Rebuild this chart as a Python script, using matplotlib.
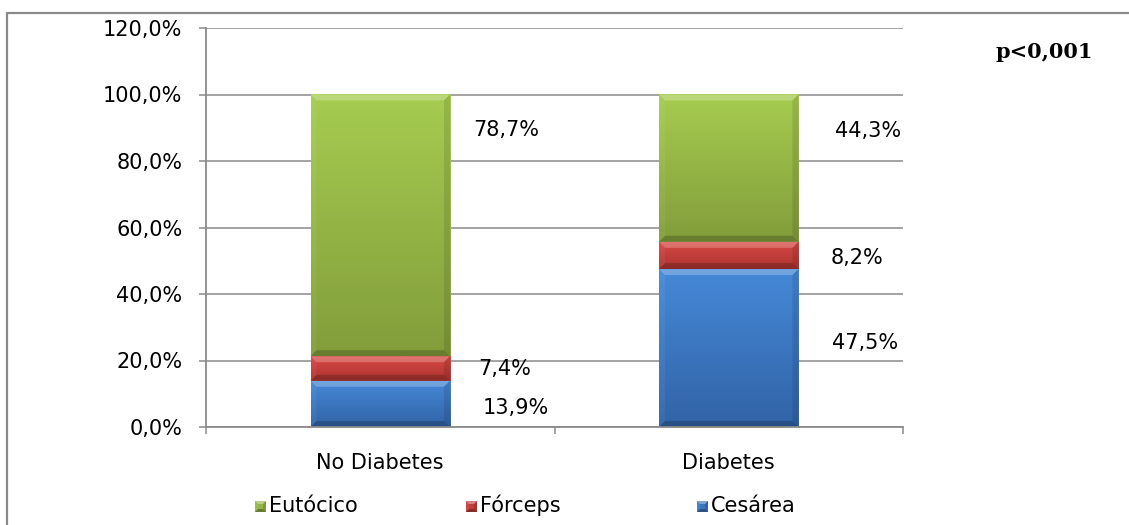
import numpy as np
import matplotlib
matplotlib.use("Agg")
import matplotlib.pyplot as plt
from matplotlib.patches import Polygon
from matplotlib.lines import Line2D
from matplotlib.colors import LinearSegmentedColormap
from matplotlib.ticker import FuncFormatter, FixedLocator

# ---- data -------------------------------------------------------------
categories = ["No Diabetes", "Diabetes"]
series_names = ["Eutócico", "Fórceps", "Cesárea"]
cesarea = [13.9, 47.5]
forceps = [7.4, 8.2]
eutocico = [78.7, 44.3]
y_ticks = [0, 20, 40, 60, 80, 100, 120]
p_text = "p<0,001"

# ---- style ------------------------------------------------------------
FONT = "DejaVu Sans"
FS = 15
GRAY = "#8a8a8a"
# (top colour, bottom colour) of each segment's vertical gradient
shades = {
    "Cesárea": ("#4689d8", "#3163a6"),
    "Fórceps": ("#d84844", "#ad3431"),
    "Eutócico": ("#a6cc50", "#829d3b"),
}
BEVEL_PX = 6

W, H, DPI = 1129, 525, 100
fig = plt.figure(figsize=(W / DPI, H / DPI), dpi=DPI)
ax = fig.add_axes([206 / W, 1 - 427 / H, 697 / W, 399 / H])

x = np.arange(len(categories))
ax.set_xlim(-0.5, len(categories) - 0.5)
ax.set_ylim(0, 120)

# pixel -> data unit conversion for the bevel
sx = (W * ax.get_position().width) / (len(categories))
sy = (H * ax.get_position().height) / 120
bx, by = BEVEL_PX / sx, BEVEL_PX / sy


def bevel_faces(x0, y0, x1, y1, bxx, byy, strength=1.0):
    return [
        ([(x0, y1), (x1, y1), (x1 - bxx, y1 - byy), (x0 + bxx, y1 - byy)], "white", 0.24 * strength),
        ([(x0, y0), (x1, y0), (x1 - bxx, y0 + byy), (x0 + bxx, y0 + byy)], "black", 0.2 * strength),
        ([(x0, y0), (x0, y1), (x0 + bxx, y1 - byy), (x0 + bxx, y0 + byy)], "white", 0.05 * strength),
        ([(x1, y0), (x1, y1), (x1 - bxx, y1 - byy), (x1 - bxx, y0 + byy)], "black", 0.1 * strength),
    ]


def bevel(ax, x0, y0, x1, y1, c_top, c_bot, bx, by, z):
    cmap = LinearSegmentedColormap.from_list("g", [c_bot, c_top])
    grad = np.linspace(0, 1, 256).reshape(-1, 1)
    ax.imshow(grad, extent=(x0, x1, y0, y1), origin="lower", cmap=cmap,
              aspect="auto", zorder=z, interpolation="bilinear")
    bxx = min(bx, (x1 - x0) / 2)
    byy = min(by, (y1 - y0) / 2)
    for pts, col, a in bevel_faces(x0, y0, x1, y1, bxx, byy):
        ax.add_patch(Polygon(pts, closed=True, facecolor=col, alpha=a,
                             edgecolor="none", zorder=z + 0.1))


bottom = np.zeros(len(categories))
stack = [("Cesárea", cesarea), ("Fórceps", forceps), ("Eutócico", eutocico)]
for name, vals in stack:
    top_c, bot_c = shades[name]
    bars = ax.bar(x, vals, width=0.4, bottom=bottom, color=bot_c,
                  edgecolor="none", zorder=3, label=name)
    for r in bars:
        x0, y0 = r.get_x(), r.get_y()
        bevel(ax, x0, y0, x0 + r.get_width(), y0 + r.get_height(),
              top_c, bot_c, bx, by, 4)
    bottom += np.array(vals)

ax.set_xlim(-0.5, len(categories) - 0.5)
ax.set_ylim(0, 120)

# value labels beside each bar
label_pos = {
    ("No Diabetes", "Eutócico"): (0.361, 89.3),
    ("No Diabetes", "Fórceps"): (0.358, 17.4),
    ("No Diabetes", "Cesárea"): (0.390, 5.7),
    ("Diabetes", "Eutócico"): (1.400, 89.0),
    ("Diabetes", "Fórceps"): (1.368, 50.8),
    ("Diabetes", "Cesárea"): (1.391, 25.3),
}
for name, vals in stack:
    for ci, cat in enumerate(categories):
        lx, ly = label_pos[(cat, name)]
        ax.text(lx, ly, f"{vals[ci]:.1f}%".replace(".", ","), ha="center",
                va="center", fontsize=FS, family=FONT, color="black", zorder=6)

# axes styling
ax.yaxis.set_major_locator(FixedLocator(y_ticks))
ax.yaxis.set_major_formatter(FuncFormatter(lambda v, p: f"{v:.1f}%".replace(".", ",")))
ax.grid(axis="y", color=GRAY, lw=1.1, zorder=0)
ax.set_axisbelow(True)
for s in ("top", "right"):
    ax.spines[s].set_visible(False)
for s in ("left", "bottom"):
    ax.spines[s].set_color(GRAY)
    ax.spines[s].set_linewidth(1.3)
    ax.spines[s].set_zorder(5)
ax.tick_params(axis="y", direction="out", length=5, width=1.1, color=GRAY,
               pad=12, labelsize=FS, labelcolor="black")
ax.set_xticks(x)
ax.set_xticklabels(categories)
ax.set_xticks([-0.5, 0.5, 1.5], minor=True)
ax.tick_params(axis="x", which="major", length=0, pad=19, labelsize=FS)
ax.tick_params(axis="x", which="minor", direction="out", length=5, width=1.1, color=GRAY)
for lab in ax.get_xticklabels() + ax.get_yticklabels():
    lab.set_family(FONT)

fig.text(1044 / W, 1 - 52 / H, p_text, ha="center", va="center",
         family="DejaVu Serif", fontweight="bold", fontsize=15)

# legend row: bevelled square key + series name
legend_x = {"Eutócico": 255, "Fórceps": 466, "Cesárea": 697}
KEY = 11
key_bottom = 512
for n in series_names:
    top_c, bot_c = shades[n]
    cmap = LinearSegmentedColormap.from_list("g", [bot_c, top_c])
    x0 = legend_x[n]
    y0 = H - key_bottom
    sq = [(x0, y0), (x0 + KEY, y0), (x0 + KEY, y0 + KEY), (x0, y0 + KEY)]
    fig.add_artist(Polygon(sq, facecolor=cmap(0.5), edgecolor="none",
                           transform=None))
    b = 3
    for pts, col, a in bevel_faces(x0, y0, x0 + KEY, y0 + KEY, b, b, 1.5):
        fig.add_artist(Polygon(pts, facecolor=col, alpha=a, edgecolor="none",
                               transform=None))
    fig.text((x0 + KEY + 3) / W, 1 - 512 / H, n, ha="left", va="baseline",
             family=FONT, fontsize=FS)

# outer frame
fig.add_artist(Line2D([6.5 / W, 6.5 / W, 1.0], [0, 1 - 12.5 / H, 1 - 12.5 / H],
                      transform=fig.transFigure, color=GRAY, lw=1.6))

fig.savefig("out.png", dpi=DPI, facecolor="white")
